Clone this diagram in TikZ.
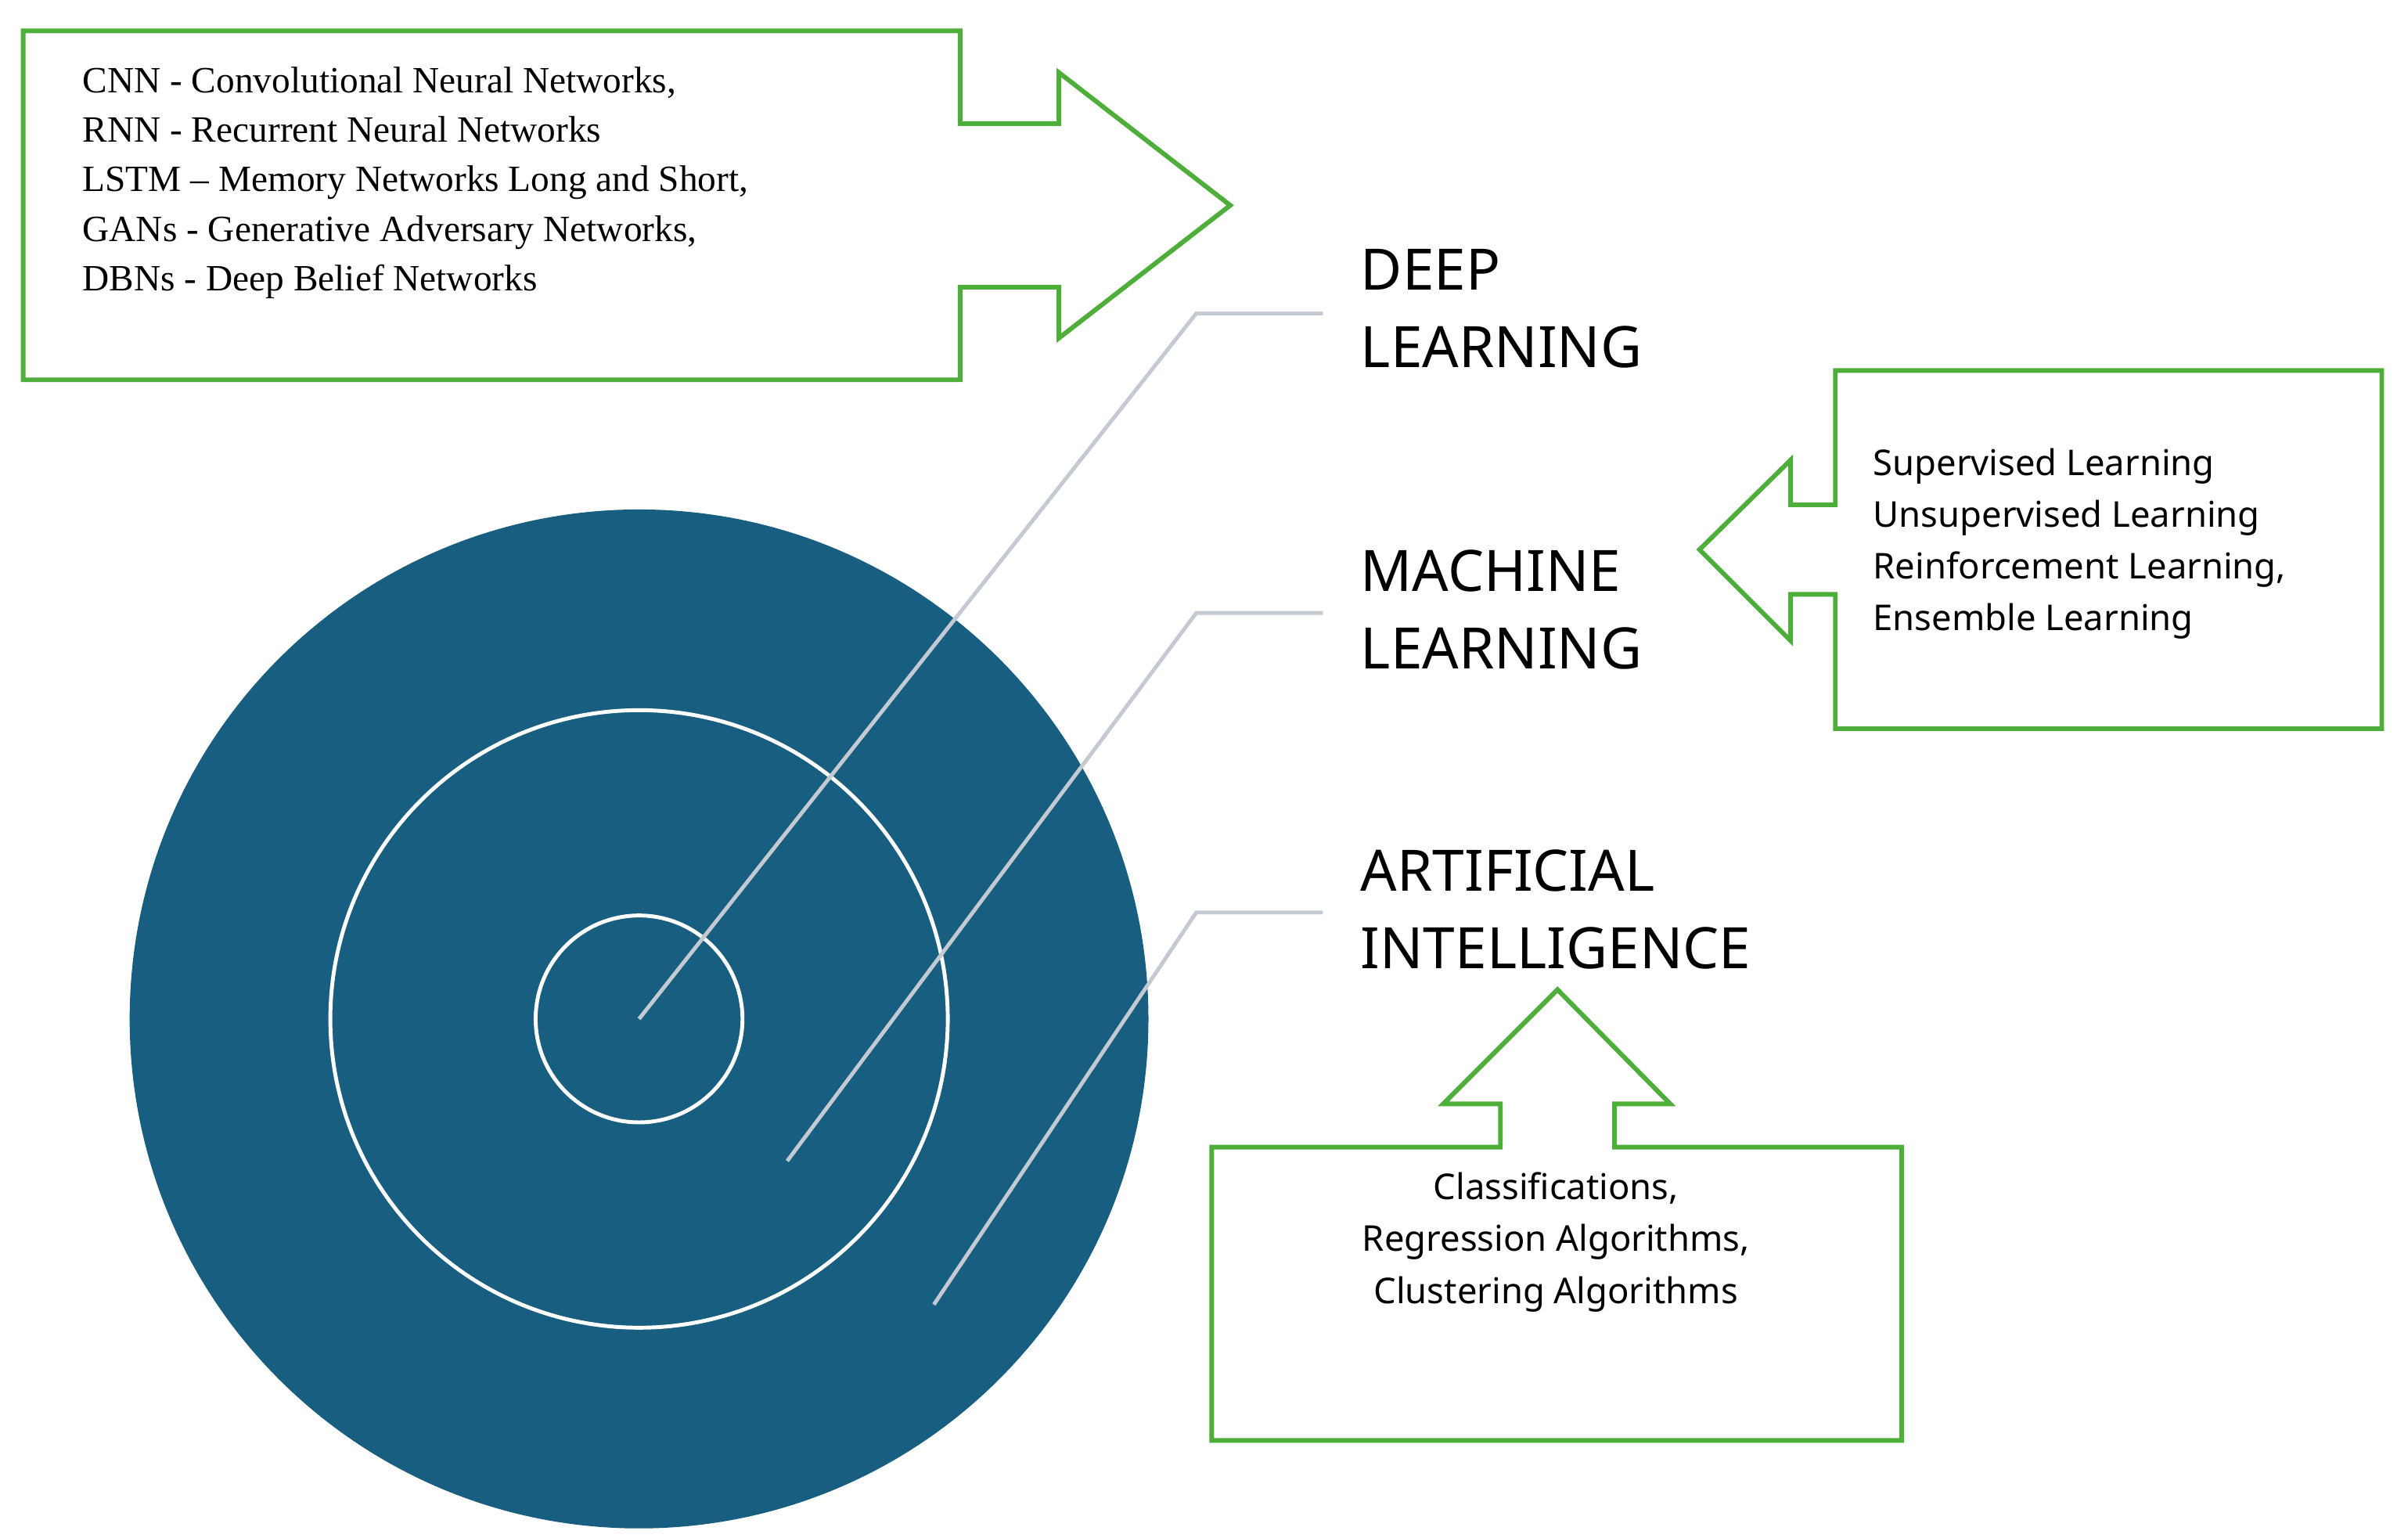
\documentclass[tikz,border=0pt]{standalone}
\usepackage{fontspec}
\setmainfont{Liberation Serif}
\newfontfamily\sans{Noto Sans}
\definecolor{tblue}{HTML}{175E80}
\definecolor{cgreen}{HTML}{4DAE3A}
\definecolor{lgray}{HTML}{C3CAD2}
\begin{document}
\begin{tikzpicture}[x=1pt,y=-1pt,
  callout/.style={draw=cgreen,line width=3pt,fill=white},
  leader/.style={draw=lgray,line width=2.5pt},
  ring/.style={draw=white,line width=2.5pt},
  big/.style={font=\sans\fontsize{37}{50}\selectfont,align=left,anchor=west},
  serif/.style={font=\fontsize{24}{32}\selectfont,align=left,anchor=north west},
  small/.style={font=\sans\fontsize{23}{33.5}\selectfont}]
\useasboundingbox (0,0) rectangle (1560,996);
\fill[tblue] (414,660) circle (330);
\draw[ring] (414,660) circle (200);
\draw[ring] (414,660) circle (67);
\coordinate (c0) at (414,660); \coordinate (c1) at (510,752); \coordinate (c2) at (605,845);
\coordinate (k0) at (775,203); \coordinate (k1) at (775,397); \coordinate (k2) at (775,591);
\coordinate (e0) at (857,203); \coordinate (e1) at (857,397); \coordinate (e2) at (857,591);
\draw[leader] (c0) -- (k0) -- (e0);
\draw[leader] (c1) -- (k1) -- (e1);
\draw[leader] (c2) -- (k2) -- (e2);
\node[big] (dl) at (878,200) {DEEP\\LEARNING};
\node[big] (ml) at (878,395) {MACHINE\\LEARNING};
\node[big] (ai) at (878,589) {ARTIFICIAL\\INTELLIGENCE};
\draw[callout] (15,20)--(622,20)--(622,80)--(686,80)--(686,47)--(797,133)--(686,219)--(686,186)--(622,186)--(622,246)--(15,246)--cycle;
\node[serif] (t1) at (50,40) {CNN - Convolutional Neural Networks,\\RNN - Recurrent Neural Networks\\LSTM -- Memory Networks Long and Short,\\GANs - Generative Adversary Networks,\\DBNs - Deep Belief Networks};
\draw[callout] (1189,240)--(1543,240)--(1543,472)--(1189,472)--(1189,385)--(1160,385)--(1160,415)--(1101,356)--(1160,298)--(1160,327)--(1189,327)--cycle;
\node[small,align=left,anchor=north west] (t2) at (1210,287) {Supervised Learning\\Unsupervised Learning\\Reinforcement Learning,\\Ensemble Learning};
\draw[callout] (785,743)--(972,743)--(972,715)--(935,715)--(1009,641)--(1082,715)--(1046,715)--(1046,743)--(1232,743)--(1232,933)--(785,933)--cycle;
\node[small,align=center,anchor=north] (t3) at (1008,756) {Classifications,\\Regression Algorithms,\\Clustering Algorithms};
\end{tikzpicture}
\end{document}
